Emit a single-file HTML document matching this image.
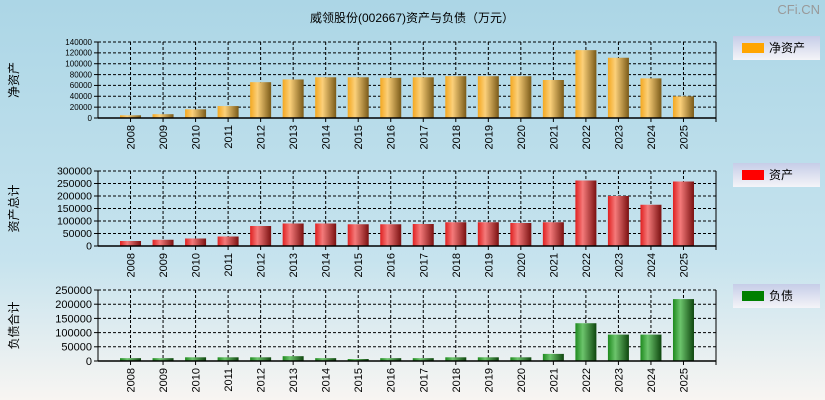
<!DOCTYPE html>
<html><head><meta charset="utf-8"><style>
html,body{margin:0;padding:0;width:825px;height:400px;overflow:hidden}
body{background:linear-gradient(#acd6e6,#c6e3ee 65%,#f8f5f2);font-family:"Liberation Sans","Noto Sans CJK SC",sans-serif}
svg{display:block}
</style></head><body>
<svg id="c" width="825" height="400" xmlns="http://www.w3.org/2000/svg">
<defs>
<linearGradient id="g0" x1="0" x2="1"><stop offset="0" stop-color="#f4a820"/><stop offset="0.35" stop-color="#fbd07a"/><stop offset="1" stop-color="#7a5a18"/></linearGradient>
<linearGradient id="g1" x1="0" x2="1"><stop offset="0" stop-color="#e02020"/><stop offset="0.35" stop-color="#f47a7a"/><stop offset="1" stop-color="#7a1010"/></linearGradient>
<linearGradient id="g2" x1="0" x2="1"><stop offset="0" stop-color="#1e8a1e"/><stop offset="0.35" stop-color="#6cc46c"/><stop offset="1" stop-color="#0e460e"/></linearGradient>
<linearGradient id="lg" x1="0" y1="0" x2="0" y2="1"><stop offset="0" stop-color="#c6cde8"/><stop offset="1" stop-color="#f4f4f8"/></linearGradient>
</defs>
<text x="412" y="22" text-anchor="middle" font-size="12">威领股份(002667)资产与负债（万元）</text>
<text x="820" y="14" text-anchor="end" font-size="13" fill="#999">CFi.CN</text>
</svg>
<script>
const years=["2008","2009","2010","2011","2012","2013","2014","2015","2016","2017","2018","2019","2020","2021","2022","2023","2024","2025"];
const netAssets=[5000,7000,16000,22000,66000,71000,75000,75000,74000,75000,77000,77000,77000,70000,125000,111000,73000,40000];
const totalAssets=[20000,25000,30000,38000,80000,90000,90000,87000,87000,88000,95000,95000,92000,95000,262000,200000,165000,258000];
const totalLiab=[10000,10000,13000,13000,13000,17000,10000,7000,10000,10000,13000,13000,13000,25000,133000,93000,93000,218000];
const ticks0=[0,20000,40000,60000,80000,100000,120000,140000];
const ticks1=[0,50000,100000,150000,200000,250000,300000];
const ticks2=[0,50000,100000,150000,200000,250000];
const svg=document.getElementById('c');const NS="http://www.w3.org/2000/svg";
function mk(t,a,p){const e=document.createElementNS(NS,t);for(const k in a)e.setAttribute(k,a[k]);(p||svg).appendChild(e);return e;}
const panels=[
{data:netAssets,ticks:ticks0,top:42,bot:118,fill:"url(#g0)",leg:"#ffa500",name:"净资产",title:"净资产",ly:36,fs:8,key:"net-assets"},
{data:totalAssets,ticks:ticks1,top:171,bot:246,fill:"url(#g1)",leg:"#ff0000",name:"资产",title:"资产总计",ly:163,fs:10.5,key:"total-assets"},
{data:totalLiab,ticks:ticks2,top:290,bot:361,fill:"url(#g2)",leg:"#008000",name:"负债",title:"负债合计",ly:284,fs:11,key:"total-liabilities"}];
const L=98,R=716,step=(R-L)/19;
const x=i=>L+step*(i+1);
panels.forEach(p=>{
 const max=p.ticks[p.ticks.length-1];
 const y=v=>p.bot-(v/max)*(p.bot-p.top);
 const g=mk('g',{});
 
 
 p.ticks.forEach(t=>{
  if(t>0){const l=mk('line',{x1:L,x2:R,y1:y(t),y2:y(t),stroke:'#000','stroke-dasharray':'3,2'},g);
  }
  mk('line',{x1:L-4,x2:L,y1:y(t),y2:y(t),stroke:'#000'},g);
  const tx=mk('text',{x:L-6,y:y(t)+p.fs*0.35,'text-anchor':'end','font-size':p.fs},g);tx.textContent=t;
  
 });
 years.forEach((yr,i)=>{
  const vl=mk('line',{x1:x(i),x2:x(i),y1:p.top,y2:p.bot,stroke:'#000','stroke-dasharray':'3,2'},g);
  
 });
 mk('line',{x1:R,x2:R,y1:p.top,y2:p.bot+4,stroke:'#000'},g);
 mk('line',{x1:L,x2:R,y1:p.top,y2:p.top,stroke:'#000','stroke-dasharray':'3,2'},g);
 years.forEach((yr,i)=>{
  const b=mk('rect',{x:x(i)-10.5,y:y(p.data[i]),width:21,height:p.bot-y(p.data[i]),fill:p.fill},g);
  
  mk('line',{x1:x(i),x2:x(i),y1:p.bot,y2:p.bot+4,stroke:'#000'},g);
  const t=mk('text',{x:0,y:0,'font-size':11,'text-anchor':'end',transform:`translate(${x(i)+4},${p.bot+7}) rotate(-90)`},g);t.textContent=yr;
  
 });
 mk('line',{x1:L,x2:L,y1:p.top,y2:p.bot,stroke:'#000'},g);
 mk('line',{x1:L,x2:R,y1:p.bot,y2:p.bot,stroke:'#000','stroke-width':1.5},g);
 const yt=mk('text',{x:0,y:0,'font-size':12,'text-anchor':'middle',transform:`translate(18,${(p.top+p.bot)/2}) rotate(-90)`},g);yt.textContent=p.title;
 
 const lg=mk('g',{},g);
 
 mk('rect',{x:733,y:p.ly,width:87,height:24,fill:'url(#lg)'},lg);
 mk('rect',{x:742,y:p.ly+7,width:22,height:10,fill:p.leg},lg);
 const lt=mk('text',{x:769,y:p.ly+16,'font-size':12},lg);lt.textContent=p.name;
});
</script>
</body></html>
